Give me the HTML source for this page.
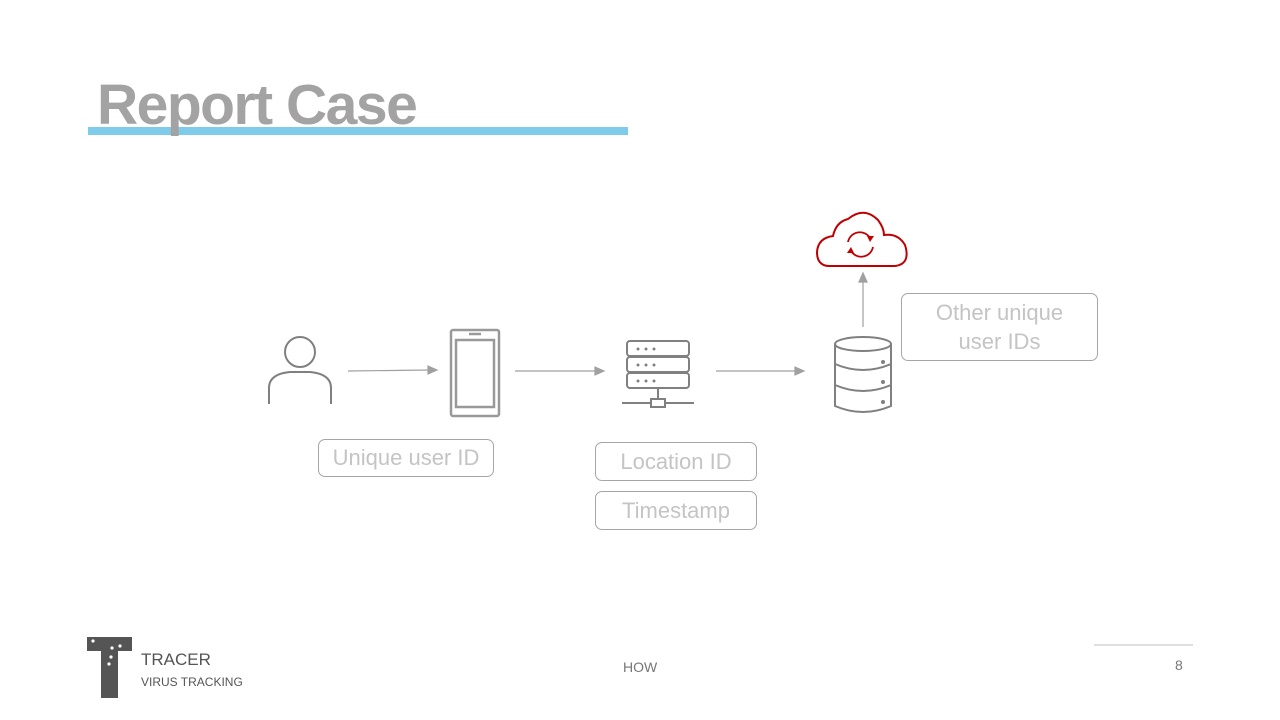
<!DOCTYPE html>
<html><head><meta charset="utf-8"><style>
body{margin:0;width:1280px;height:720px;background:#fff;position:relative;overflow:hidden;font-family:"Liberation Sans",sans-serif}
.t{position:absolute}
.box{position:absolute;border:1px solid #a6a6a6;border-radius:7px;color:#c4c4c4;font-size:22px;text-align:center;box-sizing:border-box}
</style></head><body>
<div class="t" style="left:88px;top:127px;width:540px;height:8px;background:#7fcbea"></div>
<div class="t" style="left:97px;top:70px;font-size:57px;font-weight:bold;color:#a3a3a3;letter-spacing:-1.5px;line-height:70px">Report Case</div>

<svg class="t" style="left:0;top:0" width="1280" height="720">
<g fill="none" stroke="#808080" stroke-width="2">
<circle cx="300" cy="352" r="15"/>
<path d="M269 404 V388 Q269 374 290 372 H310 Q331 374 331 388 V404"/>
</g>
<g fill="none" stroke="#999" stroke-width="2.5">
<rect x="451" y="330" width="48" height="86" rx="2"/>
<rect x="456" y="340" width="38" height="67"/>
<line x1="469" y1="334" x2="481" y2="334"/>
</g>
<g fill="none" stroke="#808080" stroke-width="2">
<rect x="627" y="341" width="62" height="15" rx="3"/>
<rect x="627" y="357" width="62" height="15" rx="3"/>
<rect x="627" y="373" width="62" height="15" rx="3"/>
<line x1="658" y1="388" x2="658" y2="399"/>
<rect x="651" y="399" width="14" height="8"/>
<line x1="622" y1="403" x2="651" y2="403"/><line x1="665" y1="403" x2="694" y2="403"/>
</g>
<g fill="#808080">
<circle cx="638" cy="349" r="1.5"/><circle cx="646" cy="349" r="1.5"/><circle cx="654" cy="349" r="1.5"/>
<circle cx="638" cy="365" r="1.5"/><circle cx="646" cy="365" r="1.5"/><circle cx="654" cy="365" r="1.5"/>
<circle cx="638" cy="381" r="1.5"/><circle cx="646" cy="381" r="1.5"/><circle cx="654" cy="381" r="1.5"/>
</g>
<g fill="none" stroke="#808080" stroke-width="2">
<ellipse cx="863" cy="344" rx="28" ry="7"/>
<path d="M835 344 V406 Q863 418 891 406 V344"/>
<path d="M835 364 Q863 376 891 364"/><path d="M835 385 Q863 397 891 385"/>
</g>
<g fill="#808080"><circle cx="883" cy="362" r="2"/><circle cx="883" cy="382" r="2"/><circle cx="883" cy="402" r="2"/></g>
<g stroke="#a0a0a0" stroke-width="1.2" fill="#a0a0a0">
<line x1="348" y1="371" x2="430" y2="370"/><path d="M437 370 L428 366 V374Z"/>
<line x1="515" y1="371" x2="597" y2="371"/><path d="M604 371 L595 367 V375Z"/>
<line x1="716" y1="371" x2="797" y2="371"/><path d="M804 371 L795 367 V375Z"/>
<line x1="863" y1="327" x2="863" y2="280"/><path d="M863 273 L859 282 H867Z"/>
</g>
<path d="M828 266 Q817 265 817 252 Q818 238 833 236 Q836 222 848 219 Q864 206 878 220 Q884 228 884 235 Q898 233 905 245 Q911 264 895 266 Z" fill="none" stroke="#c00000" stroke-width="2"/>
<g fill="none" stroke="#c00000" stroke-width="1.8">
<path d="M848 242 A12 12 0 0 1 870 238"/><path d="M873 247 A12 12 0 0 1 851 251"/>
</g>
<g fill="#c00000"><path d="M867 236 L874 236 L870 242Z"/><path d="M854 253 L847 253 L851 247Z"/></g>
<line x1="1094" y1="645" x2="1193" y2="645" stroke="#bfbfbf" stroke-width="1"/>
<g fill="#555">
<rect x="87" y="637" width="45" height="14"/>
<rect x="101" y="637" width="17" height="61"/>
</g>
<g fill="#fff"><circle cx="93" cy="641" r="1.6"/><circle cx="112" cy="648" r="1.6"/><circle cx="120" cy="646" r="1.6"/><circle cx="111" cy="657" r="1.6"/><circle cx="109" cy="664" r="1.6"/></g>
</svg>

<div class="box" style="left:318px;top:439px;width:176px;height:38px;line-height:36px">Unique user ID</div>
<div class="box" style="left:595px;top:442px;width:162px;height:39px;line-height:37px">Location ID</div>
<div class="box" style="left:595px;top:491px;width:162px;height:39px;line-height:37px">Timestamp</div>
<div class="box" style="left:901px;top:293px;width:197px;height:68px;line-height:29px;padding-top:4px">Other unique<br>user IDs</div>

<div class="t" style="left:141px;top:650px;font-size:17px;color:#555">TRACER</div>
<div class="t" style="left:141px;top:675px;font-size:12px;color:#555">VIRUS TRACKING</div>
<div class="t" style="left:623px;top:659px;font-size:14px;color:#777">HOW</div>
<div class="t" style="left:1175px;top:657px;font-size:14px;color:#777">8</div>
</body></html>
